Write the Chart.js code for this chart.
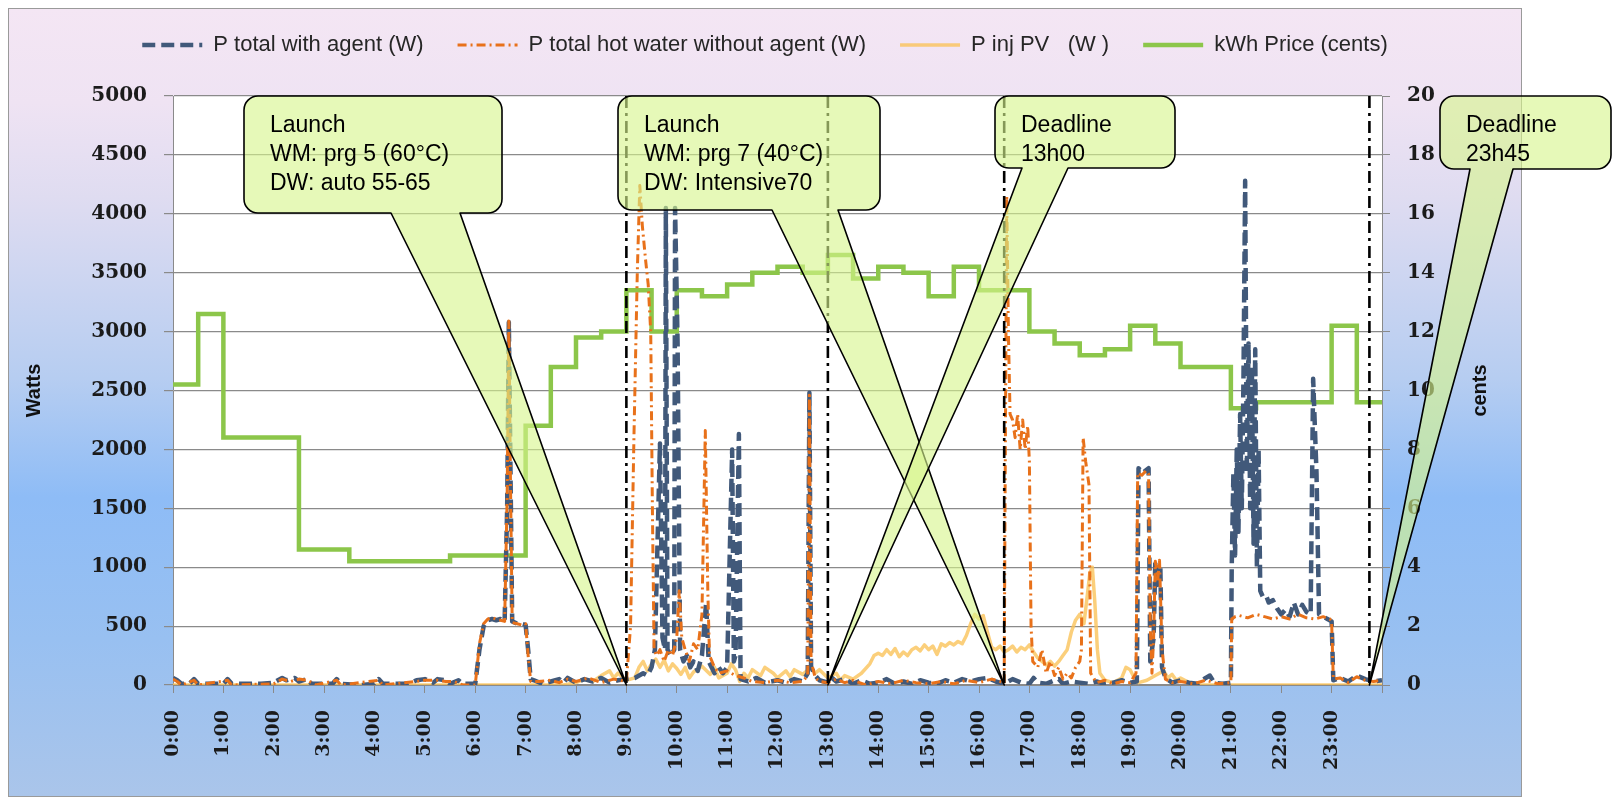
<!DOCTYPE html>
<html>
<head>
<meta charset="utf-8">
<script src="https://cdn.jsdelivr.net/npm/chart.js@4.4.1/dist/chart.umd.min.js"></script>
<style>
  html, body { margin: 0; padding: 0; background: #fff; }
  #wrap { width: 1614px; height: 800px; }
</style>
</head>
<body>
<div id="wrap"><canvas id="c" width="1614" height="800"></canvas></div>
<script>
// ---------------- DATA ----------------
const hourLabels = ["0:00","1:00","2:00","3:00","4:00","5:00","6:00","7:00","8:00","9:00","10:00","11:00",
  "12:00","13:00","14:00","15:00","16:00","17:00","18:00","19:00","20:00","21:00","22:00","23:00"];

const seriesNames = ["P total with agent (W)", "P total hot water without agent (W)", "P inj PV   (W )", "kWh Price (cents)"];

// P total with agent (W)
const agentT = ["0:00","0:05","0:10","0:20","0:25","0:30","1:00","1:05","1:10","1:45","2:00","2:10","2:15","2:25","2:30","2:40","2:45",
  "3:10","3:15","3:20","3:45","4:00","4:05","4:10","4:40","4:50","5:00","5:10","5:15","5:25","5:30","5:40","5:45","6:00",
  "6:05","6:10","6:15","6:20","6:25","6:30","6:35","6:38","6:40","6:42","6:44","6:50","6:55","7:00","7:03","7:06","7:10",
  "7:20","7:30","7:40","7:45","7:50","8:00","8:10","8:20","8:30","8:40","8:50","9:00","9:10","9:20","9:25","9:30","9:34",
  "9:40","9:43","9:46","9:47","9:49","9:53","9:57","9:58","10:01","10:04","10:08","10:12","10:16","10:20","10:25","10:30",
  "10:35","10:38","10:45","10:50","10:55","11:00","11:06","11:08","11:10","11:14","11:16","11:25","11:35","11:45","12:00",
  "12:10","12:20","12:30","12:36","12:38","12:40","12:45","12:50","13:00","13:05","13:10","13:20","13:30","13:40","13:50",
  "14:00","14:10","14:20","14:30","14:40","14:50","15:00","15:10","15:20","15:30","15:40","15:50","16:00","16:10","16:20",
  "16:30","16:40","16:50","17:00","17:05","17:10","17:20","17:30","17:35","17:40","17:50","18:00","18:10","18:20","18:30",
  "18:40","18:50","19:00","19:08","19:10","19:15","19:22","19:24","19:28","19:30","19:33","19:36","19:38","19:42","19:50",
  "20:00","20:10","20:20","20:30","20:35","20:40","20:50","21:00","21:01","21:03","21:05","21:07","21:09","21:11","21:13",
  "21:15","21:17","21:19","21:21","21:23","21:25","21:27","21:29","21:31","21:33","21:35","21:38","21:42","21:45","21:50",
  "21:55","22:00","22:05","22:10","22:15","22:20","22:25","22:30","22:35","22:38","22:42","22:45","22:50","22:55","23:00",
  "23:02","23:10","23:20","23:30","23:40","23:50","24:00"];
const agentW = [60,40,10,15,50,10,10,50,10,10,20,60,40,60,30,50,10,
  10,50,10,0,10,50,10,10,40,50,20,50,40,10,40,10,10,
  300,500,550,560,550,560,540,1500,3080,1800,540,520,520,510,300,50,40,
  10,30,50,20,60,20,50,30,60,20,40,50,60,100,80,150,300,
  2050,400,300,4050,300,250,300,4050,2900,300,200,250,150,200,120,250,
  700,200,100,150,100,150,2000,200,250,2130,50,30,60,20,40,
  20,50,30,100,2480,150,80,40,20,60,30,50,10,40,10,
  20,50,10,30,10,40,20,10,40,20,50,30,50,60,30,
  10,50,20,10,60,20,10,40,50,10,30,20,10,30,10,
  20,40,20,30,1840,1800,1840,200,400,1050,850,1000,150,60,20,
  40,20,10,60,80,20,10,20,1000,1800,1100,2000,1300,2300,1500,
  2600,4280,1800,2900,1500,2700,1200,2850,1000,2000,800,750,760,700,720,
  650,600,640,580,700,600,680,620,600,2600,1800,600,580,560,540,
  40,60,30,80,50,30,40];

// P total hot water without agent (W)
const noAgentT = ["0:00","0:05","0:10","0:25","0:30","1:05","1:10","2:00","2:10","2:20","2:30","2:40","2:50","3:15","3:20",
  "4:05","4:10","4:50","5:00","5:15","5:25","5:35","5:45","6:00","6:05","6:10","6:15","6:20","6:25","6:30","6:35","6:38",
  "6:40","6:42","6:44","6:50","6:55","7:00","7:03","7:06","7:15","7:30","7:40","7:50","8:00","8:15","8:30","8:45","9:00",
  "9:05","9:09","9:13","9:16","9:19","9:23","9:26","9:29","9:31","9:33","9:36","9:40","9:45","9:50","9:55","10:00","10:03",
  "10:06","10:10","10:15","10:20","10:25","10:30","10:34","10:37","10:39","10:45","10:50","11:00","11:10","11:20","11:30",
  "11:45","12:00","12:15","12:30","12:36","12:38","12:40","12:45","12:50","13:00","13:10","13:20","13:30","13:45","14:00",
  "14:15","14:30","14:45","15:00","15:15","15:30","15:45","16:00","16:15","16:25","16:30","16:31","16:33","16:35","16:37",
  "16:40","16:43","16:46","16:49","16:52","16:55","16:58","17:00","17:02","17:04","17:10","17:15","17:20","17:25","17:30",
  "17:35","17:40","17:45","17:50","17:55","18:00","18:02","18:04","18:07","18:11","18:13","18:20","18:30","18:40","18:50",
  "19:00","19:07","19:09","19:14","19:19","19:22","19:24","19:26","19:28","19:30","19:33","19:35","19:38","19:42","19:50",
  "20:00","20:15","20:30","20:45","21:00","21:01","21:05","21:10","21:20","21:30","21:40","21:50","22:00","22:10","22:20",
  "22:30","22:40","22:50","22:58","23:00","23:02","23:10","23:20","23:30","23:40","23:50","24:00"];
const noAgentW = [50,30,0,40,0,40,0,10,50,30,50,40,0,40,0,
  40,0,30,40,40,30,30,0,0,350,520,560,570,560,550,540,1600,
  3090,1700,530,520,510,520,250,30,30,40,20,50,30,60,20,50,30,
  500,2100,3500,4240,3900,3600,3400,3000,1500,300,250,300,200,300,250,400,800,
  400,300,200,350,300,600,2160,800,250,150,100,120,80,60,30,
  20,40,20,30,80,2460,200,60,30,20,50,20,40,0,30,
  10,40,20,10,30,10,40,20,50,30,10,1500,4150,3000,2300,
  2250,2100,2300,2000,2250,2000,2200,1900,500,200,150,300,100,200,80,
  150,50,100,60,150,200,300,2100,1900,1700,100,20,40,10,30,
  20,100,1800,1780,1820,1790,500,100,400,1050,900,1060,300,50,20,
  30,10,40,10,20,560,580,590,570,600,580,560,580,560,600,
  570,560,580,560,540,50,60,20,70,40,30,40];

// P inj PV (W)
const pvT = ["0:00","7:45","8:00","8:10","8:20","8:30","8:40","8:45","8:50","9:00","9:10","9:15","9:20","9:25","9:30","9:35",
  "9:40","9:45","9:50","9:55","10:00","10:05","10:10","10:15","10:20","10:30","10:40","10:45","10:50","11:00","11:05",
  "11:10","11:15","11:20","11:25","11:30","11:40","11:45","11:55","12:00","12:10","12:15","12:20","12:30","12:40","12:45",
  "12:50","13:00","13:10","13:15","13:20","13:30","13:40","13:50","13:55","14:00","14:05","14:10","14:15","14:20","14:25",
  "14:30","14:35","14:40","14:45","14:50","14:55","15:00","15:05","15:10","15:15","15:20","15:25","15:30","15:35","15:40",
  "15:45","15:50","15:55","16:00","16:05","16:10","16:15","16:20","16:25","16:30","16:35","16:40","16:45","16:50","16:55",
  "17:00","17:05","17:10","17:15","17:20","17:25","17:30","17:35","17:40","17:45","17:50","17:55","18:00","18:05","18:08",
  "18:12","18:15","18:18","18:21","18:24","18:30","18:40","18:50","18:55","19:00","19:05","19:10","19:20","19:30","19:40",
  "19:45","19:50","19:55","20:00","20:10","20:20","24:00"];
const pvW = [0,0,20,50,30,80,120,60,100,40,60,150,200,120,180,220,
  150,210,120,180,140,90,150,60,110,160,90,150,60,100,180,
  130,30,100,60,130,80,150,100,60,120,70,130,90,150,100,
  130,60,100,40,80,50,100,180,250,270,250,300,260,310,240,
  280,250,300,320,290,340,300,330,260,350,330,360,340,370,350,
  420,520,600,560,590,450,320,300,330,280,300,330,280,320,300,
  340,280,230,200,170,200,160,200,250,300,450,550,600,520,700,
  950,1000,700,300,100,40,20,60,150,130,60,20,40,80,120,
  60,90,40,60,20,0,0];

// kWh Price (cents), value holds from each time until the next
const priceT = ["0:00","0:30","1:00","2:30","3:30","5:30","7:00","7:30","8:00","8:30","9:00","9:30","10:00","10:30","11:00",
  "11:30","12:00","12:30","13:00","13:30","14:00","14:30","15:00","15:30","16:00","17:00","17:30","18:00","18:30","19:00",
  "19:30","20:00","21:00","21:30","23:00","23:30","24:00"];
const priceC = [10.2,12.6,8.4,4.6,4.2,4.4,8.8,10.8,11.8,12.0,13.4,12.0,13.4,13.2,13.6,
  14.0,14.2,14.0,14.6,13.8,14.2,14.0,13.2,14.2,13.4,12.0,11.6,11.2,11.4,12.2,
  11.6,10.8,9.4,9.6,12.2,9.6,9.6];

// Vertical launch / deadline markers
const markerTimes = ["9:00","13:00","16:30","23:45"];

// Callout texts and the time each one points to
const calloutTexts = [
  ["Launch","WM: prg 5 (60°C)","DW: auto 55-65"],
  ["Launch","WM: prg 7 (40°C)","DW: Intensive70"],
  ["Deadline","13h00"],
  ["Deadline","23h45"]
];
const calloutTimes = ["9:00","16:30","13:00","23:45"];

// ---------------- BUILD ----------------
function toMin(s){ const [h,m] = s.split(':').map(Number); return h*60+m; }
function pts(T, V){ return T.map((t,i)=>({x: toMin(t), y: V[i]})); }

// callout layout (pixels): box x, y, w, h, wedge base x1, x2
const calloutBoxes = [
  {x:244, y:96, w:258, h:117, b1:391, b2:460},
  {x:618, y:96, w:262, h:114, b1:772, b2:838},
  {x:995, y:96, w:180, h:72,  b1:1022, b2:1068},
  {x:1440, y:96, w:171, h:73, b1:1470, b2:1513}
];

const frameBg = {
  id:'frameBg',
  beforeDraw(chart){
    const {ctx, chartArea:a} = chart;
    ctx.save();
    ctx.fillStyle = '#fff';
    ctx.fillRect(0,0,chart.width,chart.height);
    const g = ctx.createLinearGradient(0,8,0,797);
    g.addColorStop(0,'#f4e6f4');
    g.addColorStop(0.12,'#efe3f3');
    g.addColorStop(0.24,'#dfdcf1');
    g.addColorStop(0.47,'#b6cdf1');
    g.addColorStop(0.62,'#8ebcf6');
    g.addColorStop(0.8,'#98c0f1');
    g.addColorStop(1,'#aac5ea');
    ctx.fillStyle = g;
    ctx.fillRect(8,8,1514,789);
    ctx.strokeStyle = '#9a9a9a';
    ctx.lineWidth = 1;
    ctx.strokeRect(8.5,8.5,1513,788);
    ctx.fillStyle = '#fff';
    ctx.fillRect(a.left,a.top,a.right-a.left,a.bottom-a.top);
    ctx.restore();
  }
};

const markers = {
  id:'markers',
  afterDatasetsDraw(chart){
    const {ctx, chartArea:a} = chart;
    const xs = chart.scales.x;
    ctx.save();
    ctx.strokeStyle = '#000';
    ctx.lineWidth = 2.6;
    ctx.setLineDash([12,5,3,5]);
    markerTimes.forEach(t=>{
      const px = xs.getPixelForValue(toMin(t));
      ctx.beginPath();
      ctx.moveTo(px,a.top);
      ctx.lineTo(px,a.bottom);
      ctx.stroke();
    });
    ctx.restore();
  }
};

const callouts = {
  id:'callouts',
  afterDraw(chart){
    const {ctx} = chart;
    const xs = chart.scales.x, ys = chart.scales.y;
    ctx.save();
    calloutBoxes.forEach((b,i)=>{
      const tx = xs.getPixelForValue(toMin(calloutTimes[i]));
      const ty = ys.getPixelForValue(0);
      const r = 14, x0=b.x, y0=b.y, x1=b.x+b.w, y1=b.y+b.h;
      ctx.beginPath();
      ctx.moveTo(x0+r,y0);
      ctx.lineTo(x1-r,y0);
      ctx.arcTo(x1,y0,x1,y0+r,r);
      ctx.lineTo(x1,y1-r);
      ctx.arcTo(x1,y1,x1-r,y1,r);
      ctx.lineTo(b.b2,y1);
      ctx.lineTo(tx,ty);
      ctx.lineTo(b.b1,y1);
      ctx.lineTo(x0+r,y1);
      ctx.arcTo(x0,y1,x0,y1-r,r);
      ctx.lineTo(x0,y0+r);
      ctx.arcTo(x0,y0,x0+r,y0,r);
      ctx.closePath();
      ctx.fillStyle = 'rgba(214,245,140,0.62)';
      ctx.fill();
      ctx.strokeStyle = '#000';
      ctx.lineWidth = 1.6;
      ctx.setLineDash([]);
      ctx.lineJoin = 'round';
      ctx.stroke();
      ctx.fillStyle = '#000';
      ctx.font = '23px "Liberation Sans", Arial, sans-serif';
      ctx.textBaseline = 'middle';
      ctx.textAlign = 'left';
      calloutTexts[i].forEach((line,k)=>{
        ctx.fillText(line, x0+26, y0+30+k*29);
      });
    });
    ctx.restore();
  }
};

const rightTitle = {
  id:'rightTitle',
  afterDraw(chart){
    const {ctx, chartArea:a} = chart;
    ctx.save();
    ctx.translate(1480,(a.top+a.bottom)/2);
    ctx.rotate(-Math.PI/2);
    ctx.fillStyle = '#111';
    ctx.font = 'bold 20px "Liberation Sans", Arial, sans-serif';
    ctx.textAlign = 'center';
    ctx.textBaseline = 'middle';
    ctx.fillText('cents',0,0);
    ctx.restore();
  }
};

const tickFont = {family:'"DejaVu Serif", serif', weight:'bold', size:20};
const gridColor = '#8a8a8a';
const plainNum = (v)=>String(v);

const chart = new Chart(document.getElementById('c'), {
  type:'line',
  data:{
    datasets:[
      {label:seriesNames[0], data:pts(agentT,agentW), yAxisID:'y', borderColor:'#41597a', borderWidth:4.5,
       borderDash:[13,6], pointRadius:0, borderJoinStyle:'round', order:1},
      {label:seriesNames[1], data:pts(noAgentT,noAgentW), yAxisID:'y', borderColor:'#e8711a', borderWidth:3,
       borderDash:[9,4,2,4], pointRadius:0, borderJoinStyle:'round', order:0},
      {label:seriesNames[2], data:pts(pvT,pvW), yAxisID:'y', borderColor:'rgba(250,195,90,0.8)', borderWidth:3.5,
       pointRadius:0, borderJoinStyle:'round', order:2},
      {label:seriesNames[3], data:pts(priceT,priceC), yAxisID:'y1', borderColor:'#8cc64a', borderWidth:4.5,
       stepped:true, pointRadius:0, order:3}
    ]
  },
  options:{
    responsive:false, animation:false, devicePixelRatio:1,
    events:[],
    layout:{padding:{left:8, right:92, top:0, bottom:3}},
    plugins:{
      legend:{
        position:'top', weight:3000,
        labels:{
          usePointStyle:true, pointStyleWidth:60, padding:34, color:'#262626',
          font:{family:'"Liberation Sans", Arial, sans-serif', size:22},
          generateLabels:(ch)=>ch.data.datasets.map((ds,i)=>({
            text:ds.label, fillStyle:'rgba(0,0,0,0)', strokeStyle:ds.borderColor, lineWidth:ds.borderWidth,
            lineDash:ds.borderDash||[], lineCap:'butt', pointStyle:'line', hidden:false, datasetIndex:i, fontColor:'#262626'
          }))
        }
      },
      title:{display:true, text:' ', font:{size:10, lineHeight:1}, padding:{top:0, bottom:20}},
      tooltip:{enabled:false}
    },
    scales:{
      x:{
        type:'linear', min:0, max:1440,
        grid:{display:true, drawOnChartArea:false, drawTicks:true, tickLength:8, color:gridColor},
        border:{display:true, color:gridColor},
        ticks:{stepSize:60, autoSkip:false, minRotation:90, maxRotation:90, padding:17, color:'#1b1b1b',
               font:{family:'"DejaVu Serif", serif', weight:'bold', size:19},
               callback:(v)=>{ const i = Math.round(v/60); return i < hourLabels.length ? hourLabels[i] : ''; }},
        afterFit(s){ s.height = 112; }
      },
      y:{
        position:'left', min:0, max:5000,
        ticks:{stepSize:500, padding:17, color:'#1b1b1b', font:tickFont, callback:plainNum},
        grid:{color:gridColor, lineWidth:1.2, tickLength:9},
        border:{display:true, color:gridColor},
        title:{display:true, text:'Watts', color:'#111',
               font:{family:'"Liberation Sans", Arial, sans-serif', weight:'bold', size:20},
               padding:{top:14, bottom:0}},
        afterFit(s){ s.width = 165; }
      },
      y1:{
        position:'right', min:0, max:20,
        ticks:{stepSize:2, padding:17, color:'#1b1b1b', font:tickFont, callback:plainNum},
        grid:{drawOnChartArea:false, color:gridColor, tickLength:8},
        border:{display:true, color:gridColor},
        afterFit(s){ s.width = 140; }
      }
    }
  },
  plugins:[frameBg, markers, callouts, rightTitle]
});
</script>
</body>
</html>
